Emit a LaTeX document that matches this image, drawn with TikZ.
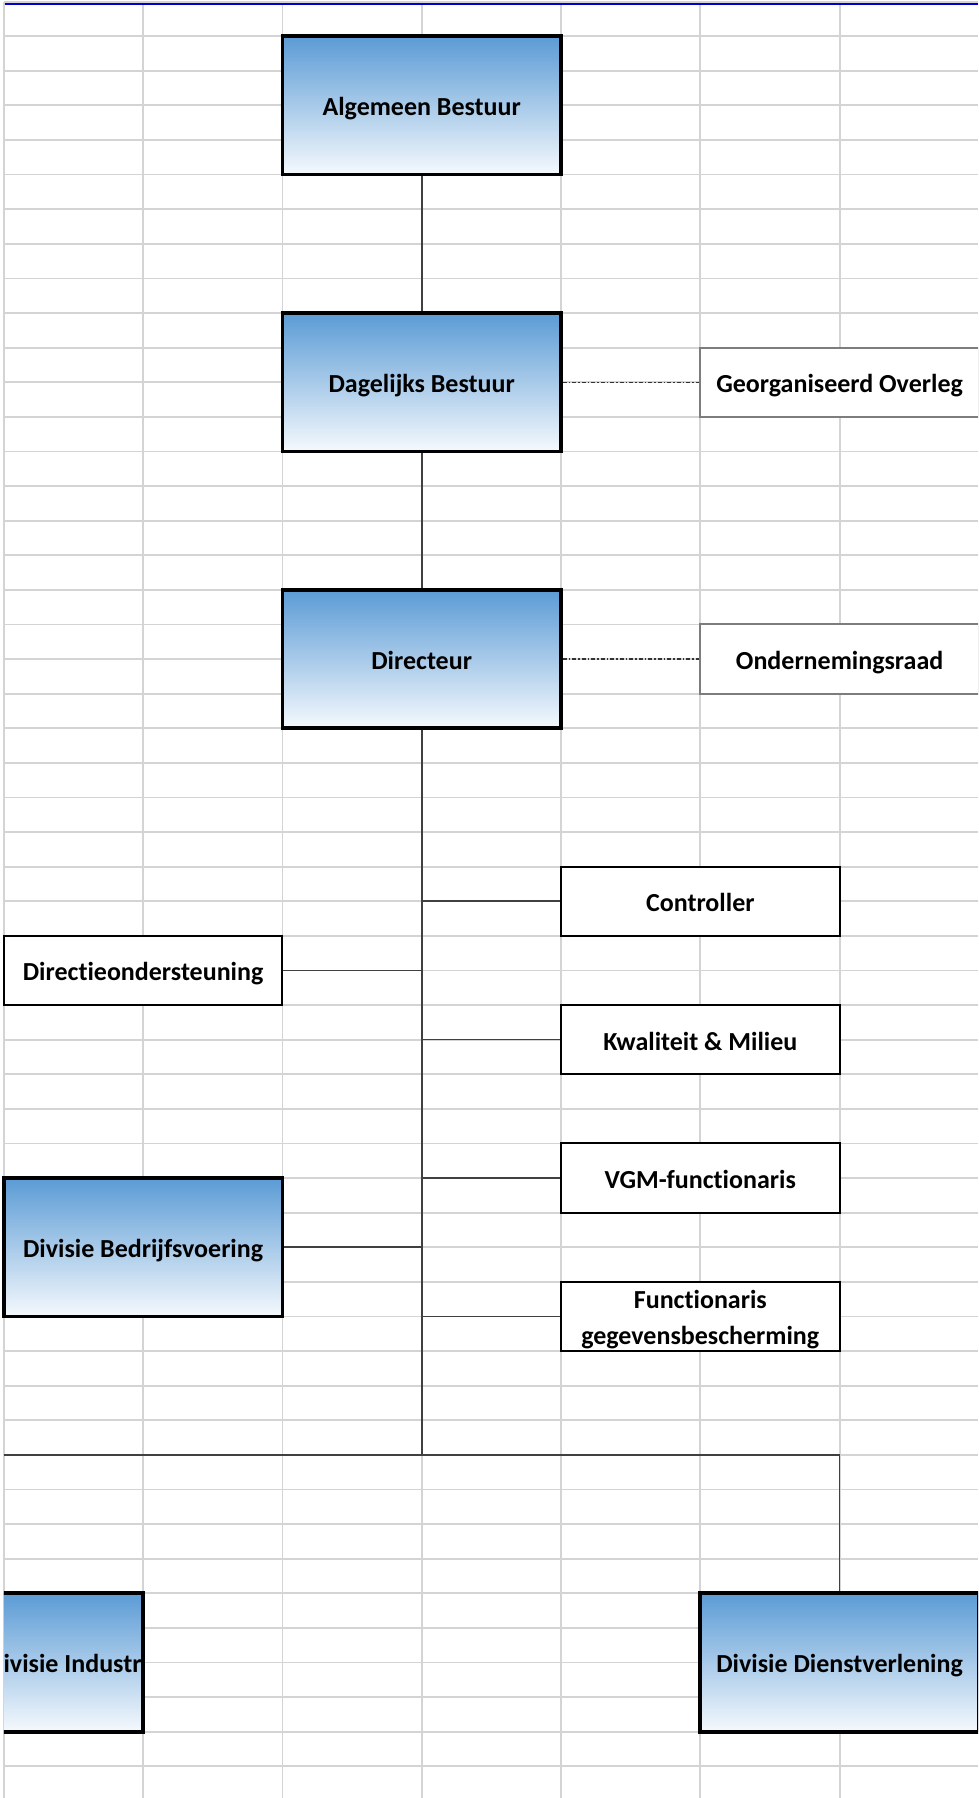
\documentclass[tikz,border=0pt]{standalone}
\usepackage{fontspec}
\setmainfont{Carlito}[Ligatures=NoCommon]
\usepackage{xcolor}
\usepackage{tikz}

\definecolor{gridgray}{RGB}{212,212,212}
\definecolor{boxblue}{RGB}{91,155,213}
\definecolor{boxpale}{RGB}{245,249,253}
\definecolor{sheetblue}{RGB}{0,0,204}
\definecolor{linegray}{RGB}{64,64,64}
\definecolor{framegray}{RGB}{125,125,125}

\tikzset{
  gridline/.style={draw=gridgray, line width=1.8pt},
  boxfont/.style={font=\bfseries\fontsize{26}{36}\selectfont, text height=27pt, text depth=6pt},
  bluebox/.style={draw=black, line width=3.8pt, top color=boxblue, bottom color=boxpale,
    minimum width=278.6pt, minimum height=138.4pt, inner sep=0pt, boxfont},
  whitebox/.style={draw=black, line width=2pt, fill=white, align=center,
    minimum width=278.6pt, minimum height=69.2pt, inner sep=0pt, boxfont},
  graybox/.style={whitebox, draw=framegray},
  conn/.style={draw=linegray, line width=1.6pt},
  dashconn/.style={draw=black!80, line width=1.3pt, dash pattern=on 4pt off 2pt on 1.5pt off 2pt}
}

\begin{document}
\begin{tikzpicture}[x=1pt, y=-1pt]
  \useasboundingbox (0,0) rectangle (978,1798);
  \clip (0,0) rectangle (978,1798);
  \fill[white] (0,0) rectangle (978,1798);

  % sheet grid
  \foreach \i in {0,...,6}
    \draw[gridline] ({3.8+139.3*\i},2) -- ({3.8+139.3*\i},1798);
  \draw[gridline] (3.8,2.2) -- (978,2.2);
  \foreach \k in {0,...,50}
    \draw[gridline] (3.8,{36.2+34.6*\k}) -- (978,{36.2+34.6*\k});
  \draw[sheetblue, line width=2pt] (4.7,4) -- (978,4);

  % boxes
  \node[bluebox] (algemeen) at (421.7,105.4) {Algemeen Bestuur};
  \node[bluebox] (dagelijks) at (421.7,382.2) {Dagelijks Bestuur};
  \node[bluebox] (directeur) at (421.7,659) {Directeur};
  \node[graybox] (overleg) at (839.6,382.2) {Georganiseerd Overleg};
  \node[graybox] (or) at (839.6,659) {Ondernemingsraad};

  \node[whitebox] (controller) at (700.3,901.2) {Controller};
  \node[whitebox] (dirond) at (143.1,970.4) {Directieondersteuning};
  \node[whitebox] (kam) at (700.3,1039.6) {Kwaliteit \& Milieu};
  \node[whitebox] (vgm) at (700.3,1178) {VGM-functionaris};
  \node[bluebox] (bedrijf) at (143.1,1247.2) {Divisie Bedrijfsvoering};
  \node[whitebox, text height=63pt, text depth=6pt] (fg) at (700.3,1316.4) {Functionaris\\gegevensbescherming};

  \node[bluebox] (dienst) at (839.6,1662.4) {Divisie Dienstverlening};
  \begin{scope}
    \clip (3.8,1580) rectangle (150,1745);
    \node[bluebox] (industrie) at (3.8,1662.4) {};
    \begin{scope}
      \clip (3.8,1595) rectangle (141.2,1729.5);
      \node[boxfont, anchor=west, inner sep=0pt] (industrietekst) at (-13,1662.4) {Divisie Industrie};
    \end{scope}
  \end{scope}

  % connectors
  \coordinate (split) at (421.7,1454.8);
  \coordinate (leftend) at (3.8,1454.8);
  \draw[conn] (algemeen) -- (dagelijks); % AB-DB
  \draw[conn] (dagelijks) -- (directeur); % DB-dir
  \draw[dashconn] (dagelijks.east) -- (overleg.west); % DB-GO
  \draw[dashconn] (directeur.east) -- (or.west); % dir-OR
  \draw[conn] (directeur.south) -- (split); % trunk
  \draw[conn] (directeur.south |- controller.west) -- (controller.west);
  \draw[conn] (directeur.south |- dirond.east) -- (dirond.east);
  \draw[conn] (directeur.south |- kam.west) -- (kam.west);
  \draw[conn] (directeur.south |- vgm.west) -- (vgm.west);
  \draw[conn] (directeur.south |- bedrijf.east) -- (bedrijf.east);
  \draw[conn] (directeur.south |- fg.west) -- (fg.west);
  \draw[conn] (leftend) -| (dienst.north); % divisies
\end{tikzpicture}
\end{document}
